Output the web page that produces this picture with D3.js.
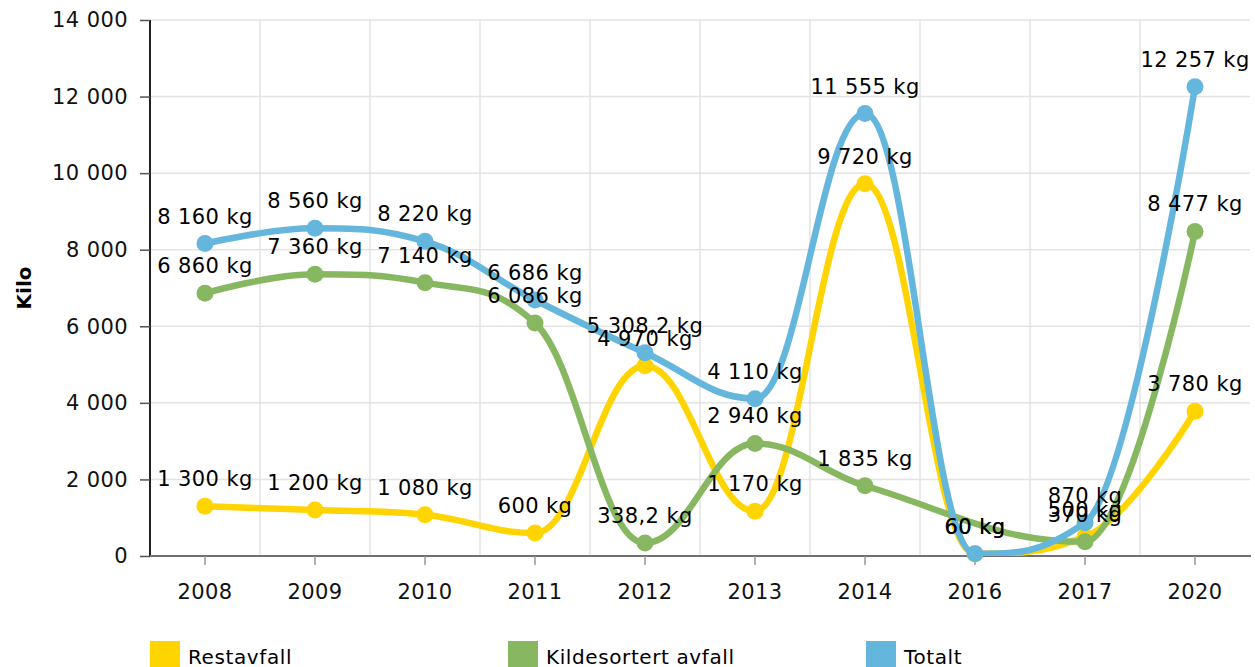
<!DOCTYPE html>
<html>
<head>
<meta charset="utf-8">
<script src="https://cdn.jsdelivr.net/npm/d3@7"></script>
<style>
  html, body { margin: 0; padding: 0; background: #fff; }
  svg { display: block; font-family: "DejaVu Sans", Verdana, sans-serif; }
</style>
</head>
<body>
<svg id="chart" width="1255" height="667"></svg>
<script>
const categories = ["2008", "2009", "2010", "2011", "2012", "2013", "2014", "2016", "2017", "2020"];
const restavfall = [1300, 1200, 1080, 600, 4970, 1170, 9720, 60, 500, 3780];
const kildesortert = [6860, 7360, 7140, 6086, 338.2, 2940, 1835, null, 370, 8477];
const totalt = [8160, 8560, 8220, 6686, 5308.2, 4110, 11555, 60, 870, 12257];
const yTicks = [0, 2000, 4000, 6000, 8000, 10000, 12000, 14000];
const seriesNames = ["Restavfall", "Kildesortert avfall", "Totalt"];
const seriesColors = ["#FFD400", "#87B861", "#65B6DD"];
const yTitle = "Kilo";

const series = [
  { name: seriesNames[0], values: restavfall, color: seriesColors[0] },
  { name: seriesNames[1], values: kildesortert, color: seriesColors[1] },
  { name: seriesNames[2], values: totalt, color: seriesColors[2] }
];

const svg = d3.select("#chart");
const L = 150, R = 1250, T = 20, B = 556;
const FS = 21, LS = 0.4;

const x = d3.scaleBand().domain(categories).range([L, R]);
const cx = c => x(c) + x.bandwidth() / 2;
const y = d3.scaleLinear().domain([0, 14000]).range([B, T]);

function fmt(v) {
  const parts = String(v).split(".");
  const int = parts[0].replace(/\B(?=(\d{3})+(?!\d))/g, " ");
  return int + (parts[1] ? "," + parts[1] : "") + " kg";
}

// grid
const grid = svg.append("g");
grid.selectAll("line.h").data(yTicks.filter(t => t > 0)).join("line")
  .attr("x1", L).attr("x2", R).attr("y1", d => y(d)).attr("y2", d => y(d))
  .attr("stroke", "#e3e3e3").attr("stroke-width", 1.5);
grid.selectAll("line.v").data(categories.slice(1)).join("line")
  .attr("x1", d => x(d)).attr("x2", d => x(d)).attr("y1", T).attr("y2", B)
  .attr("stroke", "#e3e3e3").attr("stroke-width", 1.5);

// y axis
const yAxis = svg.append("g").attr("transform", `translate(${L},0)`)
  .call(d3.axisLeft(y).tickValues(yTicks).tickSize(10).tickPadding(12)
    .tickFormat(d => d3.format(",")(d).replace(/,/g, " ")));
yAxis.select(".domain").attr("stroke", "#222").attr("stroke-width", 2).attr("d", `M0,${T}V${B}`);
yAxis.selectAll(".tick line").attr("stroke", "#555").attr("stroke-width", 1.5);
yAxis.selectAll(".tick text").attr("font-size", FS).attr("letter-spacing", LS)
  .attr("fill", "#111").attr("font-family", "DejaVu Sans");

// x axis
const xAxis = svg.append("g").attr("transform", `translate(0,${B})`)
  .call(d3.axisBottom(x).tickSize(9).tickPadding(19));
xAxis.select(".domain").attr("stroke", "#707070").attr("stroke-width", 2).attr("d", `M${L},0H${R + 1}`);
xAxis.selectAll(".tick line").attr("stroke", "#999").attr("stroke-width", 1.5);
xAxis.selectAll(".tick text").attr("font-size", FS).attr("letter-spacing", LS)
  .attr("fill", "#111").attr("font-family", "DejaVu Sans");

// y title
svg.append("text").attr("transform", `translate(31,288) rotate(-90)`)
  .attr("text-anchor", "middle").attr("font-weight", "bold").attr("font-size", 20)
  .attr("fill", "#000").text(yTitle);

// Highcharts-like spline
function splinePath(pts) {
  const smoothing = 1.5, denom = smoothing + 1;
  let d = "";
  let prevRight = null;
  for (let i = 0; i < pts.length; i++) {
    const [px, py] = pts[i];
    const last = pts[i - 1], next = pts[i + 1];
    let lcx, lcy, rcx, rcy;
    if (last && next) {
      const [lastX, lastY] = last, [nextX, nextY] = next;
      lcx = (smoothing * px + lastX) / denom;
      lcy = (smoothing * py + lastY) / denom;
      rcx = (smoothing * px + nextX) / denom;
      rcy = (smoothing * py + nextY) / denom;
      let correction = 0;
      if (rcx !== lcx) correction = ((rcy - lcy) * (rcx - px)) / (rcx - lcx) + py - rcy;
      lcy += correction; rcy += correction;
      if (lcy > lastY && lcy > py) { lcy = Math.max(lastY, py); rcy = 2 * py - lcy; }
      else if (lcy < lastY && lcy < py) { lcy = Math.min(lastY, py); rcy = 2 * py - lcy; }
      if (rcy > nextY && rcy > py) { rcy = Math.max(nextY, py); lcy = 2 * py - rcy; }
      else if (rcy < nextY && rcy < py) { rcy = Math.min(nextY, py); lcy = 2 * py - rcy; }
    }
    if (i === 0) {
      d += `M${px},${py}`;
    } else {
      const [lx, ly] = pts[i - 1];
      const c1 = prevRight || [lx, ly];
      const c2 = lcx !== undefined ? [lcx, lcy] : [px, py];
      d += `C${c1[0]},${c1[1]},${c2[0]},${c2[1]},${px},${py}`;
    }
    prevRight = rcx !== undefined ? [rcx, rcy] : null;
  }
  return d;
}

svg.append("defs").append("clipPath").attr("id", "plotclip")
  .append("rect").attr("x", L).attr("y", T - 10).attr("width", R - L + 5).attr("height", B - T + 10);

const seriesG = svg.append("g");
series.forEach(s => {
  const pts = categories.map((c, i) => s.values[i] == null ? null : [cx(c), y(s.values[i])]).filter(p => p);
  const g = seriesG.append("g");
  g.append("path").attr("d", splinePath(pts)).attr("fill", "none")
    .attr("stroke", s.color).attr("stroke-width", 6.5).attr("stroke-linecap", "round")
    .attr("stroke-linejoin", "round").attr("clip-path", "url(#plotclip)");
  g.selectAll("circle").data(categories.map((c, i) => ({ c, v: s.values[i] })).filter(d => d.v != null))
    .join("circle").attr("cx", d => cx(d.c)).attr("cy", d => y(d.v)).attr("r", 8.5)
    .attr("fill", s.color);
});

// data labels
const labelsG = svg.append("g");
series.forEach(s => {
  labelsG.append("g").selectAll("text")
    .data(categories.map((c, i) => ({ c, v: s.values[i] })).filter(d => d.v != null))
    .join("text")
    .attr("x", d => cx(d.c)).attr("y", d => y(d.v) - 20)
    .attr("text-anchor", "middle").attr("font-size", FS).attr("letter-spacing", LS)
    .attr("fill", "#000").text(d => fmt(d.v));
});

// legend
const legend = svg.append("g");
const legendX = [150, 508, 866];
series.forEach((s, i) => {
  legend.append("rect").attr("x", legendX[i]).attr("y", 641).attr("width", 30).attr("height", 30)
    .attr("fill", s.color);
  legend.append("text").attr("x", legendX[i] + 38).attr("y", 664).attr("font-size", 20)
    .attr("letter-spacing", 0.6).attr("fill", "#000").text(s.name);
});
</script>
</body>
</html>
